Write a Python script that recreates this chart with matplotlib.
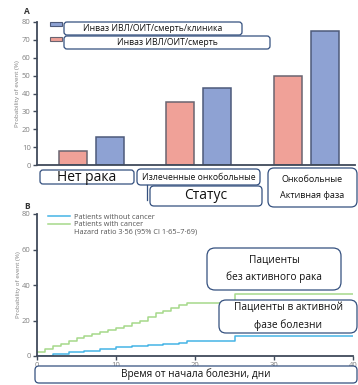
import numpy as np
import matplotlib.pyplot as plt
from matplotlib.patches import FancyBboxPatch, Rectangle
from matplotlib.lines import Line2D
from matplotlib.transforms import IdentityTransform

plt.rcParams['font.family'] = ['Open Sans', 'DejaVu Sans']

# panel A data
groups = ['Нет рака', 'Излеченные онкобольные', 'Онкобольные\nАктивная фаза']
severe = [8, 35.5, 50]          # Инваз ИВЛ/ОИТ/смерть
severe_clin = [15.5, 43, 75]    # Инваз ИВЛ/ОИТ/смерть/клиника
yticks_a = [0, 10, 20, 30, 40, 50, 60, 70, 80]

# panel B data (cumulative incidence, %)
days_no = [0, 2, 4, 6, 8, 10, 12, 14, 16, 18, 19, 25, 40]
vals_no = [0, 1, 2, 3, 4, 5, 5.7, 6.3, 7, 7.5, 8.5, 11, 11]
days_ca = [0, 1, 2, 3, 4, 5, 6, 7, 8, 9, 10, 11, 12, 13, 14, 15, 16, 17, 18, 19, 25, 40]
vals_ca = [2, 4, 5.5, 7, 8.5, 10, 11, 12.5, 13.5, 14.5, 16, 17, 18.5, 20, 22, 24,
           25.5, 27, 28.5, 30, 35, 35]
xticks_b = [0, 10, 20, 30, 40]
yticks_b = [0, 20, 40, 60, 80]

W, H = 358, 385
fig = plt.figure(figsize=(W / 100, H / 100), dpi=100)

red = '#F0A198'
blue = '#8EA2D3'
spine = '#404a5a'
tick_c = '#808080'


def style(ax):
    for s in ['top', 'right']:
        ax.spines[s].set_visible(False)
    for s in ['left', 'bottom']:
        ax.spines[s].set_color(spine)
        ax.spines[s].set_linewidth(1.3)
    ax.tick_params(colors=spine, labelcolor=tick_c, labelsize=5.5, length=3, width=1, pad=1.5)


# ---- panel A ----
axA = fig.add_axes([37 / W, 1 - 165 / H, (355 - 37) / W, (165 - 22) / H])
x = np.arange(len(groups))
off, bw = 0.172, 0.26
axA.bar(x - off, severe, bw, color=red, edgecolor='#6a6470', linewidth=1.1)
axA.bar(x + off, severe_clin, bw, color=blue, edgecolor='#4d5a7a', linewidth=1.1)
axA.set_xlim(-0.502, 2.45)
axA.set_ylim(0, 80)
axA.set_yticks(yticks_a)
axA.set_xticks([])
axA.set_ylabel('Probability of event (%)', fontsize=4.5, color=tick_c, labelpad=1)
style(axA)
fig.text(27 / W, 1 - 12 / H, 'A', fontsize=6, fontweight='bold', color='#333', ha='center', va='center')

# legend swatches
fig.patches.append(Rectangle((50, H - 26), 12, 4, transform=IdentityTransform(),
                             fc=blue, ec='#4d5a7a', lw=0.8))
fig.patches.append(Rectangle((50, H - 41), 12, 4, transform=IdentityTransform(),
                             fc=red, ec='#6a6470', lw=0.8))

# ---- panel B ----
axB = fig.add_axes([37 / W, 1 - 356 / H, (353 - 37) / W, (356 - 214) / H])
axB.step(days_no, vals_no, where='post', color='#45B4E6', lw=1.1)
axB.step(days_ca, vals_ca, where='post', color='#A6D98A', lw=1.1)
axB.set_xlim(0, 40)
axB.set_ylim(0, 80)
axB.set_xticks(xticks_b)
axB.set_yticks(yticks_b)
axB.set_ylabel('Probability of event (%)', fontsize=4.5, color=tick_c, labelpad=1)
style(axB)
handles = [Line2D([], [], color='#45B4E6', lw=1.1),
           Line2D([], [], color='#A6D98A', lw=1.1),
           Line2D([], [], color='none')]
labels = ['Patients without cancer', 'Patients with cancer',
          'Hazard ratio 3·56 (95% CI 1·65–7·69)']
axB.legend(handles, labels, loc='upper left', bbox_to_anchor=(0.015, 1.05), frameon=False,
           fontsize=5.3, handlelength=3, handletextpad=0.5, labelspacing=0.05,
           labelcolor='#555')
fig.text(27 / W, 1 - 207 / H, 'B', fontsize=6, fontweight='bold', color='#333', ha='center', va='center')


# ---- overlay text boxes ----
def box(x0, y0, x1, y1, txt, fs, r=4, ls=1.6):
    p = FancyBboxPatch((x0, H - y1), x1 - x0, y1 - y0,
                       boxstyle=f'round,pad=0,rounding_size={r}',
                       transform=IdentityTransform(), fc='white', ec='#34507f', lw=0.9)
    fig.patches.append(p)
    fig.text((x0 + x1) / 2 / W, 1 - (y0 + y1) / 2 / H, txt, ha='center', va='center',
             fontsize=fs, color='#111', linespacing=ls)


box(64, 22, 242, 35, 'Инваз ИВЛ/ОИТ/смерть/клиника', 6.2, r=3)
box(64, 36, 270, 49, 'Инваз ИВЛ/ОИТ/смерть', 6.2, r=3)
box(40, 170, 134, 184, groups[0], 10, r=3)
box(137, 169, 260, 185, groups[1], 6.2, r=4)
fig.lines.append(Line2D([147, 147], [H - 185, H - 200], transform=IdentityTransform(),
                        color='#34507f', lw=0.9))
box(150, 186, 262, 206, 'Статус', 10, r=4)
box(268, 168, 357, 207, groups[2], 6.5, r=6, ls=2.0)
box(207, 248, 341, 290, 'Пациенты\nбез активного рака', 7.3, r=8)
box(219, 300, 357, 333, 'Пациенты в активной\nфазе болезни', 7.3, r=7)
box(35, 366, 357, 383, 'Время от начала болезни, дни', 7.2, r=4)

fig.savefig('out.png', dpi=100)
